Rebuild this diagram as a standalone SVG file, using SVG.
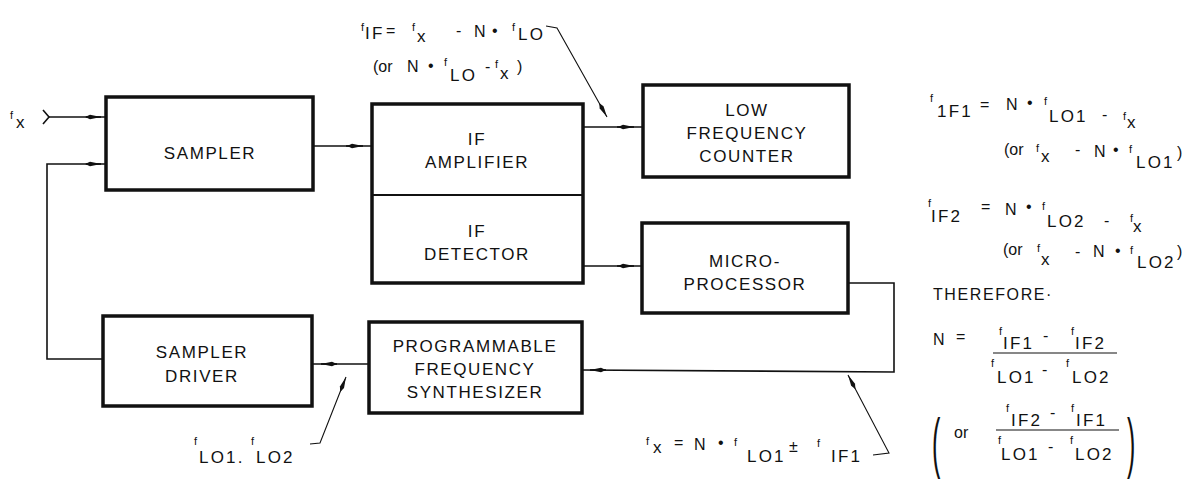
<svg xmlns="http://www.w3.org/2000/svg" width="1185" height="481" viewBox="0 0 1185 481">
<style>
.box{fill:none;stroke:#111;stroke-width:3.5;stroke-linejoin:miter}
.div{fill:none;stroke:#111;stroke-width:2}
.ln{fill:none;stroke:#111;stroke-width:1.6}
.ld{fill:none;stroke:#111;stroke-width:1.1}
.lbl{font-family:"Liberation Sans",Arial,sans-serif;font-size:17px;letter-spacing:1.6px;text-anchor:middle;fill:#111}
.fm{font-family:"Liberation Sans",Arial,sans-serif;font-size:16px;fill:#111}
.f{font-size:11px}
.s{font-size:17px;letter-spacing:2.2px}
</style>
<defs>
<marker id="ah" viewBox="0 0 16 6" refX="16" refY="3" markerWidth="16" markerHeight="6" markerUnits="userSpaceOnUse" orient="auto">
<path d="M0,3 L5,0.8 L16,3 L5,5.2 Z" fill="#111"/>
</marker>
</defs>
<rect width="1185" height="481" fill="#fff"/>

<g id="sampler">
<rect class="box" x="106" y="97" width="207" height="93"/>
<text class="lbl" x="210" y="159">SAMPLER</text>
</g>
<g id="if-block">
<rect class="box" x="372" y="104" width="211" height="179"/>
<line class="div" x1="372" y1="195" x2="583" y2="195"/>
<text class="lbl" x="477" y="145">IF</text>
<text class="lbl" x="477" y="168">AMPLIFIER</text>
<text class="lbl" x="477" y="237">IF</text>
<text class="lbl" x="477" y="260">DETECTOR</text>
</g>
<g id="lf-counter">
<rect class="box" x="643" y="85" width="206" height="92"/>
<text class="lbl" x="747" y="116">LOW</text>
<text class="lbl" x="747" y="139">FREQUENCY</text>
<text class="lbl" x="747" y="162">COUNTER</text>
</g>
<g id="microprocessor">
<rect class="box" x="642" y="223" width="206" height="90"/>
<text class="lbl" x="745" y="267">MICRO-</text>
<text class="lbl" x="745" y="290">PROCESSOR</text>
</g>
<g id="synthesizer">
<rect class="box" x="369" y="322" width="213" height="91"/>
<text class="lbl" x="475" y="352">PROGRAMMABLE</text>
<text class="lbl" x="475" y="375">FREQUENCY</text>
<text class="lbl" x="475" y="398">SYNTHESIZER</text>
</g>
<g id="sampler-driver">
<rect class="box" x="103" y="316" width="209" height="90"/>
<text class="lbl" x="202" y="358">SAMPLER</text>
<text class="lbl" x="202" y="382">DRIVER</text>
</g>

<g id="connectors">
<path class="ln" d="M43,110 L49,117 L43,124"/>
<path class="ln" d="M49,117 H106"/>
<path class="ln" d="M86,117 H101" marker-end="url(#ah)"/>
<path class="ln" d="M103,359 H47 V164 H106"/>
<path class="ln" d="M86,164 H101" marker-end="url(#ah)"/>
<path class="ln" d="M313,146 H372"/>
<path class="ln" d="M346,146 H363" marker-end="url(#ah)"/>
<path class="ln" d="M583,127 H643"/>
<path class="ln" d="M617,127 H634" marker-end="url(#ah)"/>
<path class="ln" d="M583,266 H642"/>
<path class="ln" d="M617,266 H634" marker-end="url(#ah)"/>
<path class="ln" d="M848,283 H894 V372 L582,370"/>
<path class="ln" d="M606,370 H590" marker-end="url(#ah)"/>
<path class="ln" d="M369,364 H312"/>
<path class="ln" d="M337,364 H321" marker-end="url(#ah)"/>
<path class="ld" d="M546,26 L557,28 L607,117" marker-end="url(#ah)"/>
<path class="ld" d="M873,455 L889,453 L848,375" marker-end="url(#ah)"/>
<path class="ld" d="M310,444 L320,443 L346,377" marker-end="url(#ah)"/>
</g>

<g id="labels" class="fm">
<text class="fm"><tspan class="f" x="10" y="119">f</tspan><tspan class="s" x="16" y="128">x</tspan></text>

<text class="fm"><tspan class="f" x="361" y="31">f</tspan><tspan class="s" x="365" y="39">IF</tspan><tspan x="386" y="36">=</tspan><tspan class="f" x="412" y="31">f</tspan><tspan class="s" x="417" y="42">x</tspan><tspan x="456" y="36">-</tspan><tspan x="474" y="37">N</tspan><tspan x="492" y="36">•</tspan><tspan class="f" x="512" y="31">f</tspan><tspan class="s" x="518" y="40">LO</tspan></text>
<text class="fm"><tspan x="373" y="72">(or</tspan><tspan x="407" y="72">N</tspan><tspan x="428" y="71">•</tspan><tspan class="f" x="444" y="66">f</tspan><tspan class="s" x="450" y="81">LO</tspan><tspan x="485" y="72">-</tspan><tspan class="f" x="495" y="68">f</tspan><tspan class="s" x="500" y="79">x</tspan><tspan x="517" y="72">)</tspan></text>

<text class="fm"><tspan class="f" x="646" y="445">f</tspan><tspan class="s" x="653" y="453">x</tspan><tspan x="674" y="448">=</tspan><tspan x="694" y="450">N</tspan><tspan x="718" y="448">•</tspan><tspan class="f" x="734" y="446">f</tspan><tspan class="s" x="747" y="462">LO1</tspan><tspan x="789" y="452">±</tspan><tspan class="f" x="817" y="447">f</tspan><tspan class="s" x="831" y="462">IF1</tspan></text>

<text class="fm"><tspan class="f" x="194" y="445">f</tspan><tspan class="s" x="199" y="463">LO1.</tspan><tspan class="f" x="251" y="445">f</tspan><tspan class="s" x="256" y="463">LO2</tspan></text>

<text class="fm"><tspan class="f" x="930" y="102">f</tspan><tspan class="s" x="937" y="117">1F1</tspan><tspan x="980" y="110">=</tspan><tspan x="1006" y="110">N</tspan><tspan x="1027" y="108">•</tspan><tspan class="f" x="1044" y="105">f</tspan><tspan class="s" x="1049" y="122">LO1</tspan><tspan x="1102" y="120">-</tspan><tspan class="f" x="1123" y="120">f</tspan><tspan class="s" x="1127" y="128">x</tspan></text>
<text class="fm"><tspan x="1004" y="155">(or</tspan><tspan class="f" x="1036" y="152">f</tspan><tspan class="s" x="1041" y="162">x</tspan><tspan x="1075" y="155">-</tspan><tspan x="1094" y="157">N</tspan><tspan x="1113" y="155">•</tspan><tspan class="f" x="1129" y="153">f</tspan><tspan class="s" x="1136" y="168">LO1</tspan><tspan x="1177" y="158">)</tspan></text>
<text class="fm"><tspan class="f" x="928" y="207">f</tspan><tspan class="s" x="931" y="222">IF2</tspan><tspan x="981" y="212">=</tspan><tspan x="1005" y="215">N</tspan><tspan x="1026" y="212">•</tspan><tspan class="f" x="1042" y="210">f</tspan><tspan class="s" x="1047" y="227">LO2</tspan><tspan x="1104" y="226">-</tspan><tspan class="f" x="1130" y="222">f</tspan><tspan class="s" x="1133" y="232">x</tspan></text>
<text class="fm"><tspan x="1003" y="255">(or</tspan><tspan class="f" x="1037" y="252">f</tspan><tspan class="s" x="1041" y="265">x</tspan><tspan x="1075" y="257">-</tspan><tspan x="1093" y="257">N</tspan><tspan x="1115" y="256">•</tspan><tspan class="f" x="1130" y="254">f</tspan><tspan class="s" x="1137" y="268">LO2</tspan><tspan x="1177" y="257">)</tspan></text>

<text class="fm" x="933" y="300" style="font-size:16px;letter-spacing:1.6px">THEREFORE·</text>

<text class="fm"><tspan x="933" y="345">N</tspan><tspan x="956" y="342">=</tspan></text>
<text class="fm"><tspan class="f" x="999" y="335">f</tspan><tspan class="s" x="1003" y="349">IF1</tspan><tspan x="1043" y="341">-</tspan><tspan class="f" x="1071" y="335">f</tspan><tspan class="s" x="1075" y="349">IF2</tspan></text>
<line class="ld" x1="993" y1="353" x2="1117" y2="353"/>
<text class="fm"><tspan class="f" x="991" y="367">f</tspan><tspan class="s" x="997" y="383">LO1</tspan><tspan x="1042" y="375">-</tspan><tspan class="f" x="1066" y="367">f</tspan><tspan class="s" x="1072" y="383">LO2</tspan></text>

<text class="fm" transform="translate(932,465) scale(1,2.7)" style="font-size:25px">(</text>
<text class="fm" x="954" y="438">or</text>
<text class="fm"><tspan class="f" x="1006" y="412">f</tspan><tspan class="s" x="1011" y="426">IF2</tspan><tspan x="1050" y="418">-</tspan><tspan class="f" x="1071" y="412">f</tspan><tspan class="s" x="1076" y="426">IF1</tspan></text>
<line class="ld" x1="996" y1="430" x2="1119" y2="430"/>
<text class="fm"><tspan class="f" x="998" y="444">f</tspan><tspan class="s" x="1001" y="460">LO1</tspan><tspan x="1048" y="452">-</tspan><tspan class="f" x="1070" y="444">f</tspan><tspan class="s" x="1075" y="460">LO2</tspan></text>
<text class="fm" transform="translate(1127,465) scale(1,2.7)" style="font-size:25px">)</text>
</g>
</svg>
